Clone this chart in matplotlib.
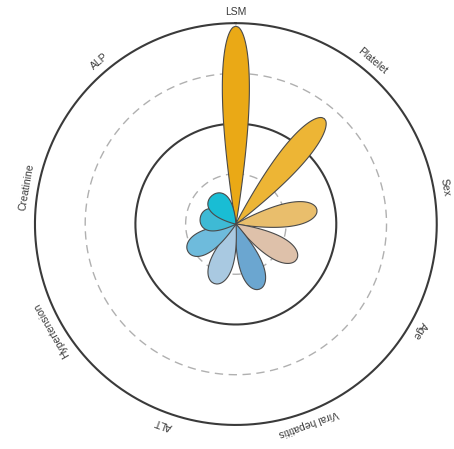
import numpy as np
import matplotlib
matplotlib.use('Agg')
import matplotlib.pyplot as plt

plt.rcParams['font.family'] = ['Liberation Sans', 'DejaVu Sans']

features = ['LSM', 'Platelet', 'Sex', 'Age', 'Viral hepatitis', 'ALT',
            'Hypertension', 'Creatinine', 'ALP']
importance = [3.94, 2.74, 1.64, 1.40, 1.38, 1.26, 1.10, 0.72, 0.74]
colors = ['#EAA916', '#EDB535', '#E9BE6C', '#DEC1AA', '#6BA6D0', '#A9C9E1',
          '#6EBBDC', '#3EBAD5', '#19BDD4']

angles = np.arange(len(features)) * 360 / len(features)

fig = plt.figure(figsize=(4.54, 4.49), dpi=100)
ax = fig.add_axes([0.077, 0.0535, 0.885, 0.895], projection='polar')
ax.set_theta_zero_location('N')
ax.set_theta_direction(-1)
ax.set_ylim(0, 4)
ax.grid(False)
ax.spines['polar'].set_visible(False)
ax.set_xticks([])
ax.set_yticks([])

# reference rings
ring = np.linspace(0, 2 * np.pi, 400)
for r, style in [(1, 'dash'), (2, 'solid'), (3, 'dash'), (4, 'solid')]:
    if style == 'solid':
        ax.plot(ring, np.full_like(ring, r), color='#3a3a3a', lw=1.5,
                zorder=1, clip_on=False)
    else:
        ax.plot(ring, np.full_like(ring, r), color='#b0b0b0', lw=1.0,
                dashes=(6, 4), zorder=1)

# petals
s = np.linspace(0, 1, 200)
shape = s ** 0.9 * np.sqrt(1 - s ** 2)
shape = shape / shape.max()
for name, val, col, a in zip(features, importance, colors, angles):
    w = 0.42 + 0.03 * val
    t = np.concatenate([s * val, (s * val)[::-1]])
    h = np.concatenate([shape * w / 2, -(shape * w / 2)[::-1]])
    rr = np.hypot(t, h)
    th = np.deg2rad(a) + np.arctan2(h, t)
    ax.fill(th, rr, facecolor=col, edgecolor='#4a4a4a', lw=0.8, zorder=3)

# category labels around the outer ring
for name, a in zip(features, angles):
    ax.text(np.deg2rad(a), 4.23, name, rotation=-a, rotation_mode='anchor',
            ha='center', va='center', fontsize=7.5, color='#3a3a3a')

fig.savefig('out.png', dpi=100)
